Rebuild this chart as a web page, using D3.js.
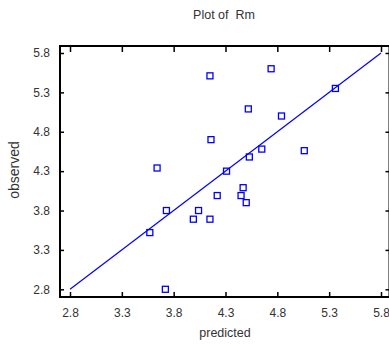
<!DOCTYPE html>
<html>
<head>
<meta charset="utf-8">
<script src="https://cdn.jsdelivr.net/npm/d3@7"></script>
<style>
  body { margin: 0; background: #fff; }
  text { font-family: "Liberation Sans", Arial, sans-serif; fill: #333; }
</style>
</head>
<body>
<svg id="chart" width="389" height="344"></svg>
<script>
// data
let predicted = [4.15, 4.74, 5.36, 4.52, 4.84, 4.16, 4.65, 5.06, 4.53, 3.64, 4.31,
                 4.47, 4.45, 4.50, 4.22, 3.73, 4.04, 3.99, 4.15, 3.57, 3.72]
let observed  = [5.51, 5.60, 5.35, 5.09, 5.00, 4.70, 4.58, 4.56, 4.48, 4.34, 4.30,
                 4.09, 3.99, 3.90, 3.99, 3.80, 3.80, 3.69, 3.69, 3.52, 2.80]
let tickVals = [2.8, 3.3, 3.8, 4.3, 4.8, 5.3, 5.8]
let fitLine = [2.8, 5.8]

let svg = d3.select('#chart')

let frame = {left: 60, top: 46, right: 389.5, bottom: 297}

let xScale = d3.scaleLinear().domain([2.8, 5.8]).range([70, 381])
let yScale = d3.scaleLinear().domain([2.8, 5.8]).range([289.3, 53])

let fmt = d3.format('.1f')

//  ---- axes (ticks pointing inward)
svg.append('g')
  .attr('transform', `translate(0,${frame.bottom})`)
  .call(d3.axisBottom(xScale).tickValues(tickVals).tickFormat(fmt).tickSizeInner(-5).tickSizeOuter(0).tickPadding(11))
  .call(g => g.select('.domain').remove())

svg.append('g')
  .attr('transform', `translate(0,${frame.top})`)
  .call(d3.axisTop(xScale).tickValues(tickVals).tickFormat('').tickSizeInner(-6).tickSizeOuter(0))
  .call(g => g.select('.domain').remove())

svg.append('g')
  .attr('transform', `translate(${frame.left},0)`)
  .call(d3.axisLeft(yScale).tickValues(tickVals).tickFormat(fmt).tickSizeInner(-4).tickSizeOuter(0).tickPadding(10))
  .call(g => g.select('.domain').remove())

svg.append('g')
  .attr('transform', `translate(${frame.right},0)`)
  .call(d3.axisRight(yScale).tickValues(tickVals).tickFormat('').tickSizeInner(-4).tickSizeOuter(0))
  .call(g => g.select('.domain').remove())

svg.selectAll('.tick line').attr('stroke', '#000').attr('stroke-width', 1.5)
svg.selectAll('.tick text').style('font-size', '12px').attr('fill', '#333')

svg.append('rect')
  .attr('x', frame.left).attr('y', frame.top)
  .attr('width', frame.right - frame.left).attr('height', frame.bottom - frame.top)
  .attr('fill', 'none').attr('stroke', '#000').attr('stroke-width', 2)

//  ---- fitted line
svg.append('line')
  .attr('x1', xScale(fitLine[0])).attr('y1', yScale(fitLine[0]))
  .attr('x2', xScale(fitLine[1])).attr('y2', yScale(fitLine[1]))
  .attr('stroke', '#0000ff').attr('stroke-width', 1.2)

//  ---- points
let pts = predicted.map((p, i) => ({x: p, y: observed[i]}))
svg.selectAll('rect.pt').data(pts).enter().append('rect')
  .attr('class', 'pt')
  .attr('x', d => xScale(d.x) - 3)
  .attr('y', d => yScale(d.y) - 3)
  .attr('width', 6).attr('height', 6)
  .attr('fill', 'none').attr('stroke', '#0000ff').attr('stroke-width', 1.3)

//  ---- titles
svg.append('text')
  .attr('x', 224).attr('y', 19)
  .attr('text-anchor', 'middle')
  .style('font-size', '12.5px')
  .style('white-space', 'pre')
  .text('Plot of  Rm')

svg.append('text')
  .attr('x', 225).attr('y', 337)
  .attr('text-anchor', 'middle')
  .style('font-size', '12.5px')
  .text('predicted')

svg.append('text')
  .attr('transform', 'translate(19,170) rotate(-90)')
  .attr('text-anchor', 'middle')
  .style('font-size', '14px')
  .text('observed')
</script>
</body>
</html>
